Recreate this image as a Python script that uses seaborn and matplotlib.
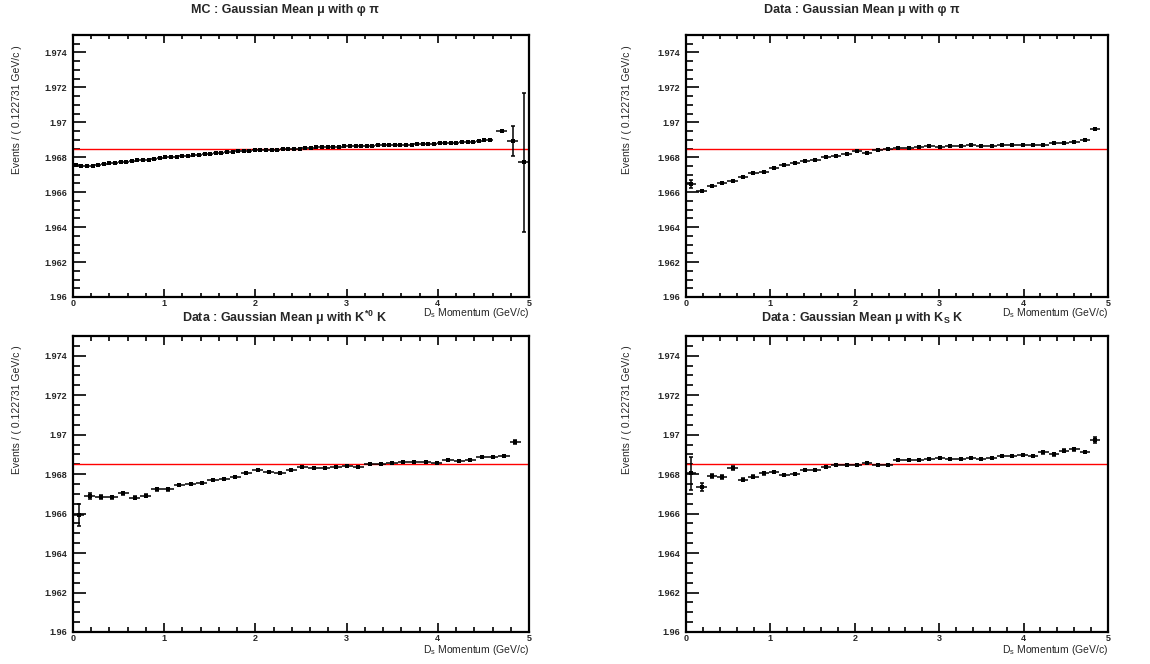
import numpy as np
import pandas as pd
import matplotlib
matplotlib.use("Agg")
import matplotlib.pyplot as plt
from matplotlib.ticker import FixedLocator, MultipleLocator, FixedFormatter
import seaborn as sns

# ---------------- data ----------------
REF_MASS = 1.9685
DATA_BIN_WIDTH = 0.122731
MC_BIN_WIDTH = 0.0613655

MC_Y = [1.96758, 1.96752, 1.96750, 1.96752, 1.96755, 1.96762, 1.96766, 1.96768, 1.96772, 1.96775,
        1.96778, 1.96782, 1.96785, 1.96786, 1.96790, 1.96796, 1.96799, 1.96802, 1.96804, 1.96806,
        1.96809, 1.96812, 1.96815, 1.96818, 1.96821, 1.96823, 1.96826, 1.96829, 1.96832, 1.96835,
        1.96836, 1.96838, 1.96840, 1.96841, 1.96842, 1.96843, 1.96843, 1.96845, 1.96846, 1.96848,
        1.96850, 1.96852, 1.96854, 1.96856, 1.96857, 1.96859, 1.96860, 1.96861, 1.96862, 1.96863,
        1.96864, 1.96865, 1.96866, 1.96867, 1.96868, 1.96868, 1.96869, 1.96870, 1.96871, 1.96872,
        1.96873, 1.96874, 1.96875, 1.96876, 1.96877, 1.96879, 1.96880, 1.96882, 1.96883, 1.96885,
        1.96886, 1.96888, 1.96892, 1.96896, 1.96899]
MC_ERR = [0.00003] * 5 + [0.00002] * 70
MC_TAIL_X = [4.70, 4.82, 4.94]
MC_TAIL_XERR = [0.061, 0.061, 0.058]
MC_TAIL_Y = [1.96949, 1.96893, 1.96771]
MC_TAIL_ERR = [0.00005, 0.00087, 0.00397]

PHIPI_Y = [1.96647, 1.96609, 1.96637, 1.96653, 1.96664, 1.96687, 1.96708, 1.96714, 1.96737, 1.96756,
           1.96766, 1.96781, 1.96787, 1.96800, 1.96810, 1.96817, 1.96836, 1.96827, 1.96842, 1.96846,
           1.96854, 1.96854, 1.96859, 1.96863, 1.96859, 1.96863, 1.96863, 1.96869, 1.96865, 1.96867,
           1.96869, 1.96869, 1.96871, 1.96873, 1.96873, 1.96884, 1.96884, 1.96890, 1.96896, 1.96963]
PHIPI_ERR = [0.00024, 0.00006, 0.00005, 0.00004, 0.00004, 0.00004, 0.00003, 0.00003, 0.00003, 0.00003,
             0.00003, 0.00003, 0.00003, 0.00003, 0.00003, 0.00003, 0.00003, 0.00003, 0.00003, 0.00003,
             0.00003, 0.00003, 0.00003, 0.00003, 0.00003, 0.00003, 0.00003, 0.00003, 0.00003, 0.00003,
             0.00003, 0.00003, 0.00003, 0.00003, 0.00003, 0.00003, 0.00003, 0.00004, 0.00004, 0.00006]

KSTAR_Y = [1.96594, 1.96690, 1.96685, 1.96683, 1.96702, 1.96681, 1.96690, 1.96723, 1.96723, 1.96744,
           1.96752, 1.96756, 1.96771, 1.96775, 1.96788, 1.96806, 1.96823, 1.96813, 1.96804, 1.96823,
           1.96835, 1.96829, 1.96831, 1.96838, 1.96840, 1.96837, 1.96850, 1.96850, 1.96856, 1.96860,
           1.96862, 1.96860, 1.96858, 1.96871, 1.96869, 1.96873, 1.96885, 1.96888, 1.96892, 1.96963]
KSTAR_ERR = [0.00055, 0.00016, 0.00009, 0.00008, 0.00009, 0.00008, 0.00008, 0.00006, 0.00006, 0.00005,
             0.00005, 0.00005, 0.00004, 0.00004, 0.00004, 0.00004, 0.00004, 0.00004, 0.00004, 0.00004,
             0.00004, 0.00004, 0.00004, 0.00004, 0.00004, 0.00004, 0.00004, 0.00004, 0.00004, 0.00004,
             0.00004, 0.00004, 0.00004, 0.00004, 0.00004, 0.00005, 0.00005, 0.00005, 0.00006, 0.00010]

KSK_Y = [1.96804, 1.96737, 1.96790, 1.96785, 1.96831, 1.96771, 1.96787, 1.96804, 1.96810, 1.96798,
         1.96800, 1.96819, 1.96823, 1.96837, 1.96846, 1.96848, 1.96846, 1.96858, 1.96844, 1.96844,
         1.96871, 1.96871, 1.96871, 1.96879, 1.96881, 1.96879, 1.96879, 1.96881, 1.96877, 1.96881,
         1.96894, 1.96894, 1.96896, 1.96890, 1.96910, 1.96900, 1.96919, 1.96925, 1.96913, 1.96975]
KSK_ERR = [0.00083, 0.00020, 0.00010, 0.00009, 0.00010, 0.00008, 0.00007, 0.00006, 0.00006, 0.00005,
           0.00005, 0.00005, 0.00005, 0.00004, 0.00004, 0.00004, 0.00004, 0.00004, 0.00004, 0.00004,
           0.00004, 0.00004, 0.00004, 0.00004, 0.00004, 0.00004, 0.00004, 0.00004, 0.00004, 0.00004,
           0.00005, 0.00005, 0.00005, 0.00005, 0.00006, 0.00006, 0.00006, 0.00006, 0.00006, 0.00015]

TITLES = [
    "MC : Gaussian Mean μ with φ π",
    "Data : Gaussian Mean μ with φ π",
    r"Data : Gaussian Mean μ with K$^{\mathbf{*0}}$ K",
    r"Data : Gaussian Mean μ with K$_{\mathbf{S}}$ K",
]
YLABEL = "Events / ( 0.122731 GeV/c )"
XLABEL = r"D$_{\mathregular{s}}$ Momentum (GeV/c)"
YTICKS = [1.960, 1.962, 1.964, 1.966, 1.968, 1.970, 1.972, 1.974]
YTICK_LABELS = ["1.96", "1.962", "1.964", "1.966", "1.968", "1.97", "1.972", "1.974"]
XTICKS = [0, 1, 2, 3, 4, 5]
XTICK_LABELS = ["0", "1", "2", "3", "4", "5"]

# ---------------- style ----------------
sns.set_theme(style="ticks")
plt.rcParams["font.family"] = ["Liberation Sans", "DejaVu Sans"]
plt.rcParams["mathtext.fontset"] = "custom"
plt.rcParams["mathtext.rm"] = "Liberation Sans"
plt.rcParams["mathtext.bf"] = "Liberation Sans:bold"
plt.rcParams["mathtext.it"] = "Liberation Sans:italic"

W, H = 1150, 664
fig = plt.figure(figsize=(W / 100, H / 100), dpi=100)
fig.patch.set_facecolor("white")

def frac(x0, y0, x1, y1):
    return [x0 / W, 1 - y1 / H, (x1 - x0) / W, (y1 - y0) / H]

ax1 = fig.add_axes(frac(73, 35, 529, 297))
ax2 = fig.add_axes(frac(686, 35, 1108, 297))
ax3 = fig.add_axes(frac(73, 336, 529, 632))
ax4 = fig.add_axes(frac(686, 336, 1108, 632))

def data_x(n):
    return (np.arange(n) + 0.5) * DATA_BIN_WIDTH

def draw(ax, x, y, yerr, xerr):
    ax.errorbar(x, y, xerr=xerr, fmt="none", ecolor="black", elinewidth=1.1, capsize=0, zorder=2)
    ax.errorbar(x, y, yerr=yerr, fmt="none", ecolor="black", elinewidth=1.1, capsize=1.6,
                capthick=1.1, zorder=2)
    df = pd.DataFrame({"x": x, "y": y})
    sns.scatterplot(data=df, x="x", y="y", ax=ax, marker="s", color="black", s=7,
                    linewidth=0, zorder=3, legend=False)

def style(ax, ylab_x, ylab_top, tall):
    ax.axhline(REF_MASS, color="red", lw=1.0, zorder=1)
    ax.set_xlim(0, 5)
    ax.set_ylim(1.96, 1.975)
    ax.set_xlabel("")
    ax.set_ylabel("")
    ax.yaxis.set_major_locator(FixedLocator(YTICKS))
    ax.yaxis.set_major_formatter(FixedFormatter(YTICK_LABELS))
    ax.yaxis.set_minor_locator(MultipleLocator(0.0005))
    ax.xaxis.set_major_locator(FixedLocator(XTICKS))
    ax.xaxis.set_major_formatter(FixedFormatter(XTICK_LABELS))
    ax.xaxis.set_minor_locator(MultipleLocator(0.2))
    for s in ax.spines.values():
        s.set_linewidth(1.6)
        s.set_color("black")
        s.set_visible(True)
    xl = 6.5 if tall else 5.8
    ax.tick_params(axis="y", which="major", direction="in", length=9.5, width=1.4,
                   labelsize=6.5, pad=4, left=True, right=False)
    ax.tick_params(axis="y", which="minor", direction="in", length=4.8, width=1.4,
                   left=True, right=False)
    ax.tick_params(axis="x", which="major", direction="in", length=xl, width=1.4,
                   labelsize=6.5, pad=1.5, bottom=True, top=True)
    ax.tick_params(axis="x", which="minor", direction="in", length=xl / 2, width=1.4,
                   bottom=True, top=True)
    for lab in ax.get_xticklabels() + ax.get_yticklabels():
        lab.set_fontweight("bold")
    ax.text(ylab_x, ylab_top, YLABEL, rotation=90, ha="center", va="top",
            fontsize=7.5, transform=ax.transAxes)
    ax.text(1.0, -0.036, XLABEL, ha="right", va="top", fontsize=7.5, transform=ax.transAxes)
    ax.set_facecolor("white")
    ax.grid(False)

# panel 1: MC phi pi
mc_x = (np.arange(len(MC_Y)) + 0.5) * MC_BIN_WIDTH
draw(ax1, mc_x, MC_Y, MC_ERR, MC_BIN_WIDTH / 2)
draw(ax1, np.array(MC_TAIL_X), MC_TAIL_Y, MC_TAIL_ERR, MC_TAIL_XERR)
style(ax1, -0.123, 0.962, False)

# panel 2: data phi pi
draw(ax2, data_x(len(PHIPI_Y)), PHIPI_Y, PHIPI_ERR, DATA_BIN_WIDTH / 2)
style(ax2, -0.14, 0.962, False)

# panel 3: data K*0 K
draw(ax3, data_x(len(KSTAR_Y)), KSTAR_Y, KSTAR_ERR, DATA_BIN_WIDTH / 2)
style(ax3, -0.123, 0.97, True)

# panel 4: data Ks K
draw(ax4, data_x(len(KSK_Y)), KSK_Y, KSK_ERR, DATA_BIN_WIDTH / 2)
style(ax4, -0.14, 0.97, True)

title_pos = [(285, 10), (862, 10), (285, 318), (862, 318)]
for (tx, ty), t in zip(title_pos, TITLES):
    fig.text(tx / W, 1 - ty / H, t, ha="center", va="center", fontsize=9,
             fontweight="bold")

fig.savefig("out.png", dpi=100, facecolor="white")
